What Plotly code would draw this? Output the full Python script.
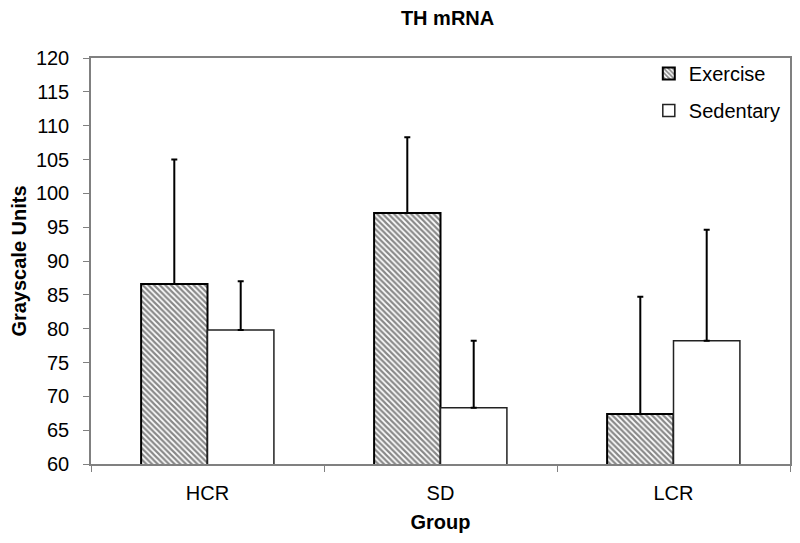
import plotly.graph_objects as go

categories = ["HCR", "SD", "LCR"]
exercise = [86.6, 97.1, 67.4]
exercise_err = [18.4, 11.2, 17.3]
sedentary = [79.8, 68.3, 78.2]
sedentary_err = [7.2, 9.9, 16.4]
y_ticks = list(range(60, 121, 5))

font_family = "Liberation Sans, Arial, sans-serif"

fig = go.Figure()
fig.add_trace(go.Bar(
    x=categories, y=exercise, name="Exercise", legendgroup="ex",
    marker=dict(color="white",
                line=dict(color="black", width=2),
                pattern=dict(shape="\\", size=4, solidity=0.55, fgcolor="#111111", bgcolor="white")),
    error_y=dict(type="data", symmetric=False, array=exercise_err,
                 arrayminus=[0, 0, 0], color="black", thickness=2, width=3),
))
fig.add_trace(go.Bar(
    x=categories, y=sedentary, name="Sedentary", legendgroup="sed",
    marker=dict(color="white", line=dict(color="#222222", width=1.5)),
    error_y=dict(type="data", symmetric=False, array=sedentary_err,
                 arrayminus=[0, 0, 0], color="black", thickness=2, width=3),
))

fig.update_layout(
    width=792, height=535,
    margin=dict(l=81, r=8, t=50, b=79),
    paper_bgcolor="white", plot_bgcolor="white",
    font=dict(family=font_family, size=19, color="black"),
    title=dict(text="<b>TH mRNA</b>", x=0.555, xanchor="center", y=0.982, yanchor="middle",
               font=dict(size=20, family=font_family, color="black")),
    barmode="group", bargap=0.43, bargroupgap=0,
    showlegend=True,
    legend=dict(x=0.798, y=1.01, xanchor="left", yanchor="top",
                bgcolor="rgba(0,0,0,0)", traceorder="grouped", tracegroupgap=8,
                font=dict(size=20, family=font_family)),
)
fig.update_xaxes(
    title=dict(text="<b>Group</b>", font=dict(size=20), standoff=12),
    showline=True, linecolor="#808080", linewidth=1.5, mirror=True,
    ticks="outside", tickson="boundaries", ticklen=6, tickcolor="#808080",
    ticklabelstandoff=10,
    tickfont=dict(size=20), showgrid=False,
)
fig.update_yaxes(
    title=dict(text="<b>Grayscale Units</b>", font=dict(size=20), standoff=6),
    range=[60, 120], tickvals=y_ticks, ticktext=[str(v) for v in y_ticks],
    showline=True, linecolor="#808080", linewidth=1.5, mirror=True,
    ticks="outside", ticklen=6, tickcolor="#808080",
    ticklabelstandoff=10,
    tickfont=dict(size=20), showgrid=False, zeroline=False,
)

fig.write_html("out.html")
